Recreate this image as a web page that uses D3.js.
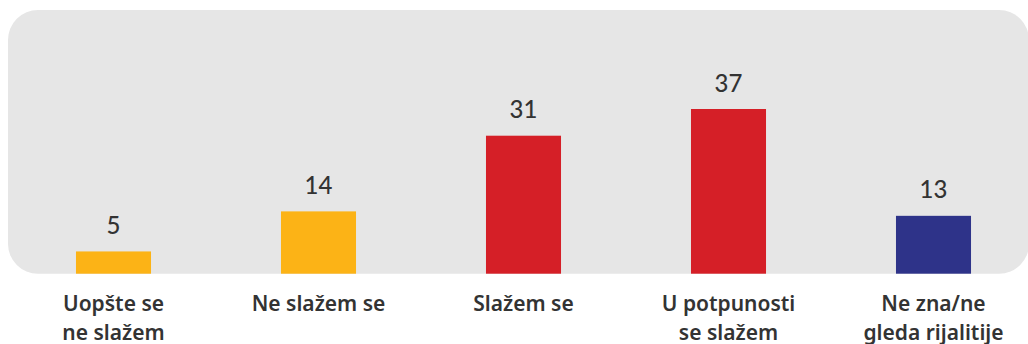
<!DOCTYPE html>
<html>
<head>
<meta charset="utf-8">
<script src="https://cdn.jsdelivr.net/npm/d3@7"></script>
<style>
  html, body { margin: 0; padding: 0; background: #fff; }
  svg { display: block; }
</style>
</head>
<body>
<svg id="chart" width="1028" height="344"></svg>
<script>
// Survey answers (percent)
const categories = [
  ["Uopšte se", "ne slažem"],
  ["Ne slažem se"],
  ["Slažem se"],
  ["U potpunosti", "se slažem"],
  ["Ne zna/ne", "gleda rijalitije"]
];
const values = [5, 14, 31, 37, 13];
const colors = ["#FCB316", "#FCB316", "#D51F27", "#D51F27", "#2E3389"];

const svg = d3.select("#chart");

const baseY = 273.7;
const x = d3.scaleBand()
  .domain(d3.range(values.length))
  .range([11, 1036])
  .paddingInner(0.634)
  .paddingOuter(0.317);

const y = d3.scaleLinear()
  .domain([0, 37])
  .range([baseY, 109]);

// Grey rounded panel behind the bars
svg.append("rect")
  .attr("x", 8).attr("y", 10)
  .attr("width", 1021).attr("height", baseY - 10)
  .attr("rx", 30).attr("ry", 30)
  .attr("fill", "#E6E6E6");

// Bars
svg.append("g").selectAll("rect")
  .data(values)
  .join("rect")
  .attr("x", (d, i) => x(i))
  .attr("y", d => y(d))
  .attr("width", x.bandwidth())
  .attr("height", d => baseY - y(d))
  .attr("fill", (d, i) => colors[i]);

// Value labels
svg.append("g").selectAll("text")
  .data(values)
  .join("text")
  .attr("x", (d, i) => x(i) + x.bandwidth() / 2)
  .attr("y", d => y(d) - 17.5)
  .attr("text-anchor", "middle")
  .attr("font-family", "Lato, 'Noto Sans', sans-serif")
  .attr("font-size", 24)
  .attr("font-weight", 500)
  .attr("fill", "#333333")
  .text(d => d);

// Category labels
const cat = svg.append("g").selectAll("text")
  .data(categories)
  .join("text")
  .attr("text-anchor", "middle")
  .attr("font-family", "'Noto Sans', sans-serif")
  .attr("font-size", 21)
  .attr("font-weight", 600)
  .attr("fill", "#333333")
  .attr("transform", (d, i) => `translate(${x(i) + x.bandwidth() / 2},311)`);

cat.selectAll("tspan")
  .data(d => d)
  .join("tspan")
  .attr("x", 0)
  .attr("y", (d, j) => j * 28.5)
  .text(d => d);
</script>
</body>
</html>
